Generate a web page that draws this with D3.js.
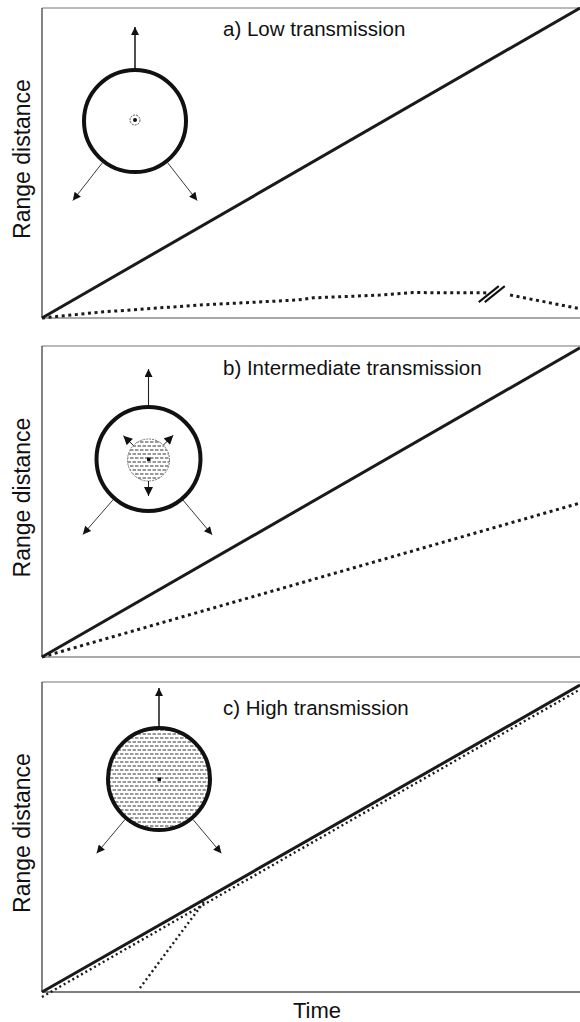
<!DOCTYPE html>
<html>
<head>
<meta charset="utf-8">
<script src="https://cdn.jsdelivr.net/npm/d3@7"></script>
<style>
  body { margin: 0; background: #fff; }
  svg { display: block; font-family: "Liberation Sans", Arial, sans-serif; }
</style>
</head>
<body>
<svg id="chart" width="580" height="1022"></svg>
<script>
// panel titles and axis labels
const panelTitles = ["a) Low transmission", "b) Intermediate transmission", "c) High transmission"];
const yLabel = "Range distance";
const xLabel = "Time";
const timeDomain = [0, 100];
const rangeDomain = [0, 100];

// solid = range of the host, dotted = range of the pathogen (time, range)
const spreadA = [[0, 0], [100, 100]];
const pathA1 = [[0, 0], [10.8, 1.9], [29.4, 4.2], [47.4, 5.8], [50.4, 6.5], [62.8, 7.4], [69, 8.2], [82.7, 8.1]];
const pathA2 = [[87, 7.4], [93.5, 5.2], [100, 3.0]];
const breakA = [83.6, 7.7];

const spreadB = [[0, 0], [100, 99.4]];
const pathB = [[0, 0], [100, 49.5]];

const spreadC = [[0, 0], [100, 99]];
const pathC = [[0, -1.6], [100, 97.6]];
const pathC2 = [[18.2, 1.3], [30.3, 29.5]];

const solids = [spreadA, spreadB, spreadC];
const dotted = [[pathA1, pathA2], [pathB], [pathC, pathC2]];

// page layout
const left = 42, right = 580;
const tops = [8, 346, 682];
const bottoms = [318, 657, 992];
const titleOffset = [28, 29, 33];

const svg = d3.select("#chart");
const x = d3.scaleLinear().domain(timeDomain).range([left, right]);

// hatch pattern for the infected cores
const defs = svg.append("defs");
const pat = defs.append("pattern")
  .attr("id", "hatch")
  .attr("patternUnits", "userSpaceOnUse")
  .attr("width", 10).attr("height", 8);
pat.append("path")
  .attr("d", "M0,2H3.5M5,2H8.5M2.5,6H6M7.5,6H11M-2.5,6H1")
  .attr("stroke", "#333").attr("stroke-width", 1.2);

defs.append("marker")
  .attr("id", "head")
  .attr("viewBox", "0 -5 10 10")
  .attr("refX", 10).attr("refY", 0)
  .attr("markerUnits", "userSpaceOnUse")
  .attr("markerWidth", 10).attr("markerHeight", 8)
  .attr("orient", "auto")
  .append("path").attr("d", "M0,-5L10,0L0,5Z").attr("fill", "#111");

defs.append("marker")
  .attr("id", "headBig")
  .attr("viewBox", "0 -5 10 10")
  .attr("refX", 10).attr("refY", 0)
  .attr("markerUnits", "userSpaceOnUse")
  .attr("markerWidth", 10).attr("markerHeight", 9)
  .attr("orient", "auto")
  .append("path").attr("d", "M0,-5L10,0L0,5Z").attr("fill", "#111");

function arrow(g, cx, cy, angle, r0, r1, width, marker) {
  const a = angle * Math.PI / 180;
  g.append("line")
    .attr("x1", cx + r0 * Math.cos(a)).attr("y1", cy + r0 * Math.sin(a))
    .attr("x2", cx + (r1 - 2) * Math.cos(a)).attr("y2", cy + (r1 - 2) * Math.sin(a))
    .attr("stroke", "#222").attr("stroke-width", width)
    .attr("marker-end", `url(#${marker || "head"})`);
}

const line = d3.line();

panelTitles.forEach((title, i) => {
  const y = d3.scaleLinear().domain(rangeDomain).range([bottoms[i], tops[i]]);
  const g = svg.append("g");
  line.x(d => x(d[0])).y(d => y(d[1]));

  // frame: top, left, bottom
  g.append("line").attr("x1", x(0)).attr("x2", x(100)).attr("y1", y(100)).attr("y2", y(100))
    .attr("stroke", "#777").attr("stroke-width", 1);
  g.append("line").attr("x1", x(0)).attr("x2", x(0)).attr("y1", y(100)).attr("y2", y(0))
    .attr("stroke", "#333").attr("stroke-width", 1.2);
  g.append("line").attr("x1", x(0)).attr("x2", x(100)).attr("y1", y(0)).attr("y2", y(0))
    .attr("stroke", "#555").attr("stroke-width", i === 2 ? 1.6 : 1.2);

  g.append("text")
    .attr("x", 223).attr("y", y(100) + titleOffset[i])
    .style("font-size", "20.5px").attr("fill", "#111")
    .text(title);

  svg.append("text")
    .attr("transform", `translate(30,${(y(0) + y(100)) / 2 - 4}) rotate(-90)`)
    .attr("text-anchor", "middle")
    .style("font-size", "23px").attr("fill", "#111")
    .text(yLabel);

  // host range
  g.append("path").datum(solids[i]).attr("d", line)
    .attr("fill", "none").attr("stroke", "#1a1a1a").attr("stroke-width", 3);

  // pathogen range
  dotted[i].forEach(seg => {
    g.append("path").datum(seg).attr("d", line)
      .attr("fill", "none").attr("stroke", "#1a1a1a")
      .attr("stroke-width", i === 2 ? 2.4 : 3)
      .attr("stroke-dasharray", i === 2 ? "2,3" : "3,3.6");
  });

  // schematic insets
  const top = y(100);
  if (i === 0) {
    const cx = 135, cy = top + 113;
    arrow(g, cx, cy, -90, 51, 96, 1.6);
    arrow(g, cx, cy, 128, 53, 103, 0.9);
    arrow(g, cx, cy, 52, 53, 103, 0.9);
    g.append("circle").attr("cx", cx).attr("cy", cy).attr("r", 51)
      .attr("fill", "#fff").attr("stroke", "#111").attr("stroke-width", 4);
    g.append("circle").attr("cx", cx).attr("cy", cy - 1).attr("r", 5)
      .attr("fill", "#fff").attr("stroke", "#444").attr("stroke-width", 0.9).attr("stroke-dasharray", "2,1");
    g.append("circle").attr("cx", cx).attr("cy", cy - 1).attr("r", 2).attr("fill", "#111");

    // axis break marks on the dotted curve
    const bx = x(breakA[0]), by = y(breakA[1]);
    [-3, 3].forEach(o => {
      g.append("line")
        .attr("x1", bx + o - 10).attr("y1", by + 8)
        .attr("x2", bx + o + 10).attr("y2", by - 8)
        .attr("stroke", "#111").attr("stroke-width", 2);
    });
  } else if (i === 1) {
    const cx = 148.5, cy = top + 113;
    arrow(g, cx, cy, -90, 51, 92, 1.1);
    arrow(g, cx, cy, 131, 53, 102, 0.9);
    arrow(g, cx, cy, 50, 53, 101, 0.9);
    g.append("circle").attr("cx", cx).attr("cy", cy).attr("r", 52)
      .attr("fill", "#fff").attr("stroke", "#111").attr("stroke-width", 4);
    g.append("circle").attr("cx", cx).attr("cy", cy + 1).attr("r", 21)
      .attr("fill", "url(#hatch)").attr("stroke", "#555").attr("stroke-width", 0.8).attr("stroke-dasharray", "2,1");
    arrow(g, cx, cy + 1, -136, 21, 37, 1, "headBig");
    arrow(g, cx, cy + 1, -45, 21, 37, 1, "headBig");
    arrow(g, cx, cy + 1, 90, 21, 38, 1, "headBig");
    g.append("rect").attr("x", cx - 1.5).attr("y", cy - 1.5).attr("width", 3.5).attr("height", 3.5).attr("fill", "#111");
  } else {
    const cx = 159, cy = top + 97;
    arrow(g, cx, cy, -90, 51, 93, 1.6);
    arrow(g, cx, cy, 130, 53, 99, 0.9);
    arrow(g, cx, cy, 50, 53, 99, 0.9);
    g.append("circle").attr("cx", cx).attr("cy", cy).attr("r", 51)
      .attr("fill", "url(#hatch)").attr("stroke", "#111").attr("stroke-width", 4);
    g.append("rect").attr("x", cx - 1.5).attr("y", cy - 1.5).attr("width", 3.5).attr("height", 3.5).attr("fill", "#111");
  }
});

svg.append("text")
  .attr("x", 317).attr("y", 1018)
  .attr("text-anchor", "middle")
  .style("font-size", "22px").attr("fill", "#111")
  .text(xLabel);
</script>
</body>
</html>
